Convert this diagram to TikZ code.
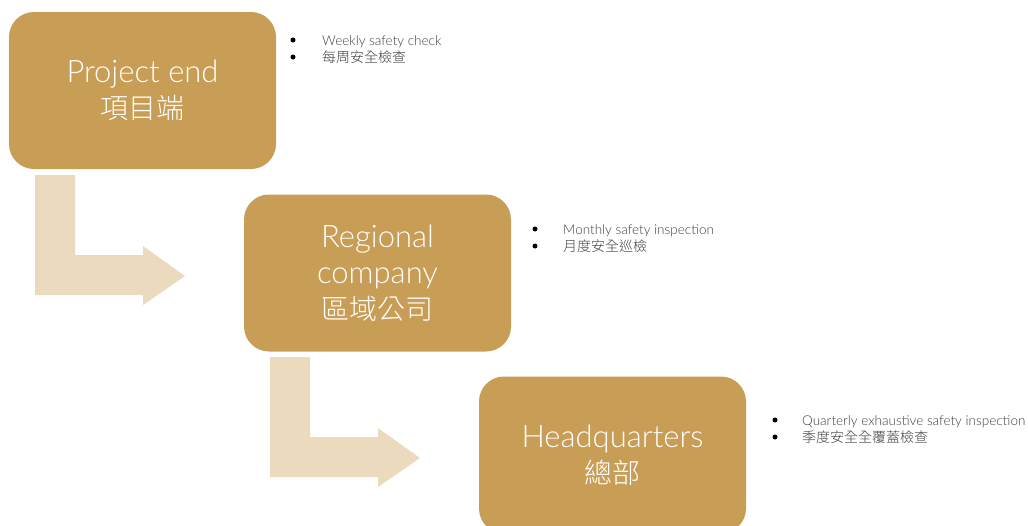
\documentclass[tikz,border=0pt]{standalone}
\usepackage{fontspec}
\setmainfont{Lato}[UprightFont=* Light]
\newfontfamily\cjk{Noto Sans CJK TC}[UprightFont=* Light]
\usetikzlibrary{positioning}
\definecolor{gold}{HTML}{C89D55}
\definecolor{sand}{HTML}{EBDABD}
\definecolor{ink}{HTML}{404040}
\tikzset{
  level/.style={fill=gold, rounded corners=25pt, minimum width=267pt, minimum height=157pt,
    text=white, align=center, font=\fontsize{31}{36}\selectfont, inner sep=0pt},
  notes/.style={anchor=north west, text=ink, font=\fontsize{13.5}{17}\selectfont, align=left, inner sep=0pt},
  dot/.style={circle, fill=black, minimum size=5pt, inner sep=0pt},
  bentshape/.style={fill=sand, draw=none}
}
\newcommand{\bentarrow}[1]{%
  \fill[bentshape, shift={(#1)}] (0,0) -- (40,0) -- (40,80) -- (108,80) -- (108,71) -- (150,101)
    -- (108,130) -- (108,120) -- (0,120) -- cycle;}
\newcommand{\bigcjk}{\cjk\fontsize{28}{36}\selectfont}
\newcommand{\smallcjk}{\cjk\fontsize{14}{17}\selectfont}
\begin{document}
\begin{tikzpicture}[x=1pt,y=-1pt]
  \useasboundingbox (0,0) rectangle (1028,525);
  \node[level] (p) at (142.5,90.5) {Project end\\{\bigcjk 項目端}};
  \node[level] (r) at (377.5,273) {Regional\\company\\{\bigcjk 區域公司}};
  \node[level] (h) at (612.5,455) {Headquarters\\{\bigcjk 總部}};

  \bentarrow{35,175}
  \bentarrow{270,357}

  \node[dot] (p1) at (293,40) {};
  \node[dot] (p2) at (293,57) {};
  \node[notes] (pt) at (322,35) {Weekly safety check\\{\smallcjk 每周安全檢查}};
  \node[dot] (r1) at (535,229) {};
  \node[dot] (r2) at (535,246) {};
  \node[notes] (rt) at (563,224) {Monthly safety inspection\\{\smallcjk 月度安全巡檢}};
  \node[dot] (h1) at (775,420) {};
  \node[dot] (h2) at (775,437) {};
  \node[notes] (ht) at (802,415) {Quarterly exhaustive safety inspection\\{\smallcjk 季度安全全覆蓋檢查}};
\end{tikzpicture}
\end{document}
